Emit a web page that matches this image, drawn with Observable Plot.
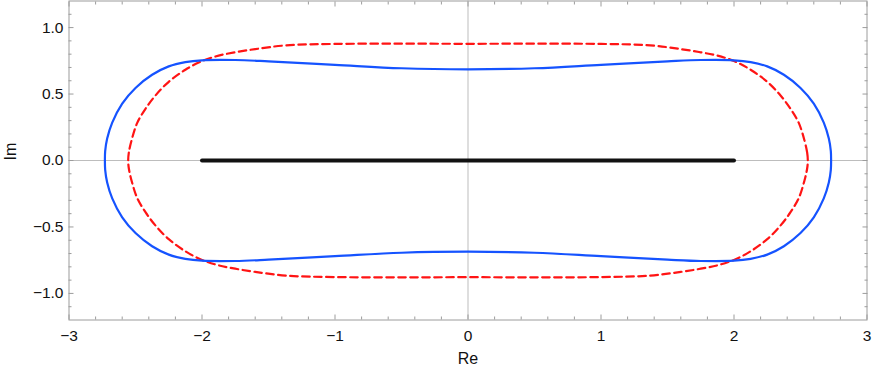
<!DOCTYPE html>
<html><head><meta charset="utf-8">
<script src="https://cdn.jsdelivr.net/npm/d3@7"></script>
<script src="https://cdn.jsdelivr.net/npm/@observablehq/plot@0.6"></script>
<style>body{margin:0;background:#fff}</style>
</head><body><div id="chart"></div>
<script>
// Tick labels
const xTicks = [-3, -2, -1, 0, 1, 2, 3];
const yTicks = [-1.0, -0.5, 0.0, 0.5, 1.0];
const xMinorTicks = [-2.8,-2.6,-2.4,-2.2,-1.8,-1.6,-1.4,-1.2,-0.8,-0.6,-0.4,-0.2,0.2,0.4,0.6,0.8,1.2,1.4,1.6,1.8,2.2,2.4,2.6,2.8];
const yMinorTicks = [-1.1,-0.9,-0.8,-0.7,-0.6,-0.4,-0.3,-0.2,-0.1,0.1,0.2,0.3,0.4,0.6,0.7,0.8,0.9,1.1];

// Blue curve, upper-right quarter, x ascending
const blueX = [0, 0.5, 1.0, 1.5, 1.75, 2.0, 2.125, 2.25, 2.375, 2.5, 2.6, 2.675, 2.713, 2.728, 2.73];
const blueY = [0.686, 0.694, 0.720, 0.746, 0.756, 0.754, 0.740, 0.708, 0.645, 0.546, 0.428, 0.285, 0.165, 0.07, 0];

// Red dashed curve, upper-right quarter
const redX = [0, 0.5, 1.0, 1.37, 1.6, 1.75, 1.875, 2.0, 2.125, 2.25, 2.35, 2.425, 2.487, 2.53, 2.55, 2.555];
const redY = [0.878, 0.879, 0.877, 0.866, 0.838, 0.814, 0.789, 0.748, 0.683, 0.592, 0.489, 0.389, 0.283, 0.15, 0.06, 0];

// Black segment on the real axis
const segX = [-2, 2];
const segY = [0, 0];

function closedLoop(qx, qy) {
  const q = qx.map((x, i) => ({x, y: qy[i]}));
  const upper = [...q.slice().reverse(), ...q.slice(1).map(p => ({x: -p.x, y: p.y}))];
  const lower = upper.slice(1, -1).reverse().map(p => ({x: p.x, y: -p.y}));
  return [...upper, ...lower];
}
const blueLoop = closedLoop(blueX, blueY);
const redLoop = closedLoop(redX, redY);
const segment = segX.map((x, i) => ({x, y: segY[i]}));

const frameColor = "#9c9c9c";
const blank = () => "";
const smooth = d3.curveCatmullRomClosed.alpha(0.5);

const chart = Plot.plot({
  width: 872,
  height: 378,
  marginLeft: 68.5,
  marginRight: 5.5,
  marginTop: 0.5,
  marginBottom: 58.5,
  x: {domain: [-3, 3]},
  y: {domain: [-1.2, 1.2]},
  style: {fontFamily: "'Liberation Sans', Arial, sans-serif", fontSize: "15.5px", background: "white", color: "#111"},
  marks: [
    Plot.ruleX([0], {stroke: "#bdbdbd", strokeWidth: 1}),
    Plot.ruleY([0], {stroke: "#bdbdbd", strokeWidth: 1}),
    Plot.line(redLoop, {x: "x", y: "y", curve: smooth, stroke: "#ff1414", strokeWidth: 2.2, strokeDasharray: "7.5,4.5"}),
    Plot.line(blueLoop, {x: "x", y: "y", curve: smooth, stroke: "#1553ff", strokeWidth: 2.2}),
    Plot.line(segment, {x: "x", y: "y", stroke: "#111", strokeWidth: 4}),
    Plot.frame({stroke: frameColor}),
    // labels
    Plot.axisX(xTicks, {anchor: "bottom", tickSize: 0, tickPadding: 10, tickFormat: d3.format("d"), label: null, fontSize: 15.5}),
    Plot.axisY(yTicks, {anchor: "left", tickSize: 0, tickPadding: 5.5, tickFormat: d3.format(".1f"), label: null, fontSize: 15.5}),
    // inward ticks
    Plot.axisX(xTicks, {anchor: "bottom", tickSize: -5, tickFormat: blank, label: null, stroke: frameColor}),
    Plot.axisX(xMinorTicks, {anchor: "bottom", tickSize: -3, tickFormat: blank, label: null, stroke: frameColor}),
    Plot.axisX(xTicks, {anchor: "top", tickSize: -5, tickFormat: blank, label: null, stroke: frameColor}),
    Plot.axisX(xMinorTicks, {anchor: "top", tickSize: -3, tickFormat: blank, label: null, stroke: frameColor}),
    Plot.axisY(yTicks, {anchor: "left", tickSize: -5, tickFormat: blank, label: null, stroke: frameColor}),
    Plot.axisY(yMinorTicks, {anchor: "left", tickSize: -3, tickFormat: blank, label: null, stroke: frameColor}),
    Plot.axisY(yTicks, {anchor: "right", tickSize: -5, tickFormat: blank, label: null, stroke: frameColor}),
    Plot.axisY(yMinorTicks, {anchor: "right", tickSize: -3, tickFormat: blank, label: null, stroke: frameColor}),
    Plot.text(["Re"], {text: d => d, frameAnchor: "bottom", dy: 44, fontSize: 16, fill: "#111"}),
    Plot.text(["Im"], {text: d => d, frameAnchor: "left", dx: -58.5, rotate: -90, fontSize: 16, fill: "#111"})
  ]
});
document.getElementById("chart").appendChild(chart);
</script>
</body></html>
